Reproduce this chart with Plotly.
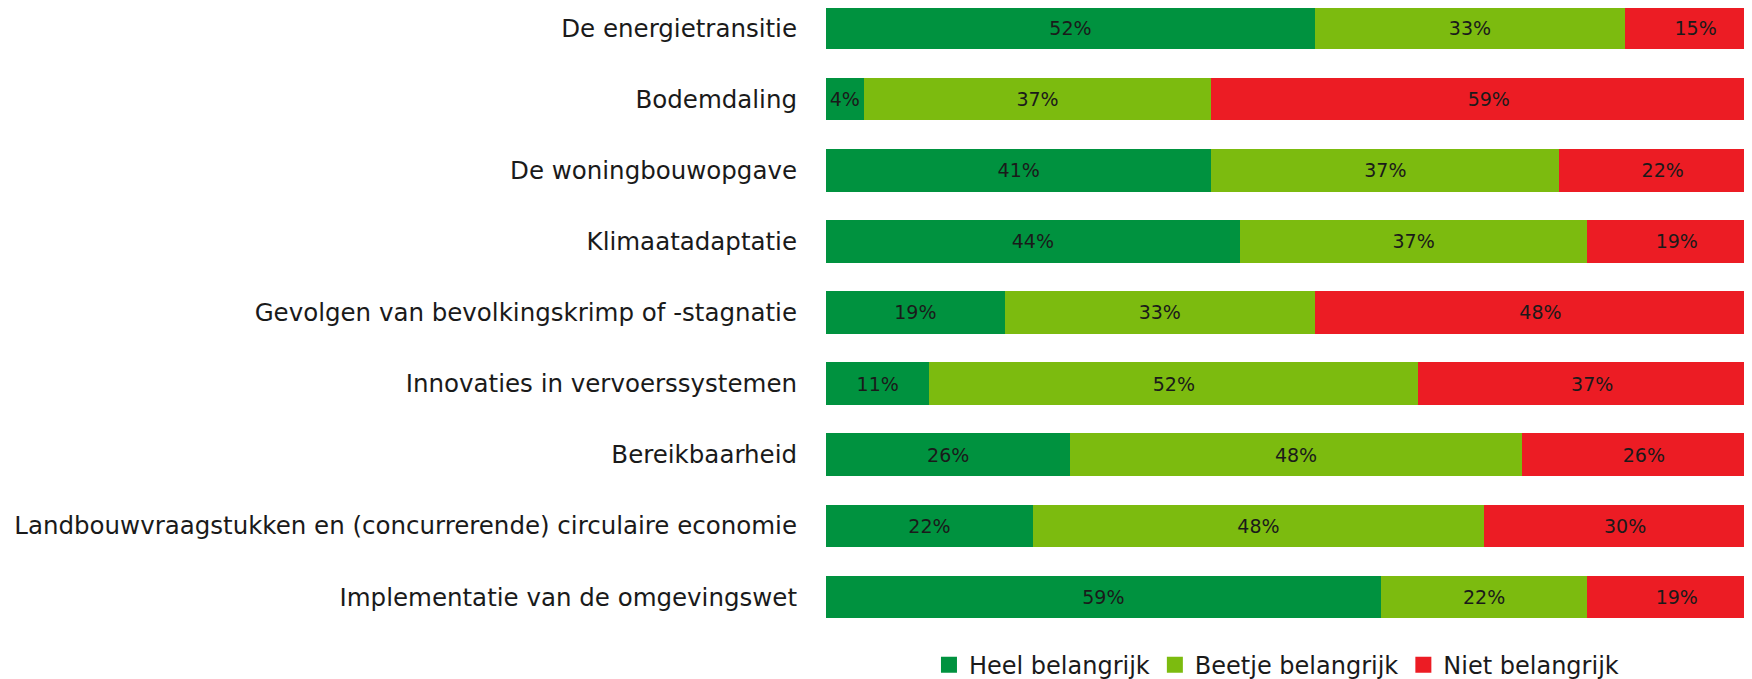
import plotly.graph_objects as go

categories = [
    "De energietransitie",
    "Bodemdaling",
    "De woningbouwopgave",
    "Klimaatadaptatie",
    "Gevolgen van bevolkingskrimp of -stagnatie",
    "Innovaties in vervoerssystemen",
    "Bereikbaarheid",
    "Landbouwvraagstukken en (concurrerende) circulaire economie",
    "Implementatie van de omgevingswet",
]
heel = [52, 4, 41, 44, 19, 11, 26, 22, 59]
beetje = [33, 37, 37, 37, 33, 52, 48, 48, 22]
niet = [15, 59, 22, 19, 48, 37, 26, 30, 19]

series = [
    ("Heel belangrijk", heel, "#00923F"),
    ("Beetje belangrijk", beetje, "#7CBB0F"),
    ("Niet belangrijk", niet, "#EC1C24"),
]

LABEL_FONT = "DejaVu Sans"
fig = go.Figure()
for name, vals, col in series:
    fig.add_trace(go.Bar(
        y=categories, x=vals, name=name, orientation="h",
        marker=dict(color=col, line=dict(width=0)),
        text=[f"{v}%" for v in vals], textposition="inside",
        insidetextanchor="middle", textangle=0,
        textfont=dict(family=LABEL_FONT, size=19, color="#1a1a1a"),
        width=0.6, showlegend=False, legendgroup=name,
    ))
# legend entries (square swatches)
for name, vals, col in series:
    fig.add_trace(go.Scatter(
        x=[None], y=[None], mode="markers", name=name, legendgroup=name,
        marker=dict(symbol="square", size=16, color=col),
        hoverinfo="skip",
    ))

fig.update_layout(
    barmode="stack",
    width=1744, height=671,
    margin=dict(l=818, r=0, t=0, b=47, autoexpand=False),
    paper_bgcolor="white", plot_bgcolor="white",
    uniformtext=dict(mode="show", minsize=19),
    showlegend=True,
    legend=dict(orientation="h", x=0.1112, xref="paper", xanchor="left",
                y=-0.053, yanchor="middle",
                font=dict(family=LABEL_FONT, size=24, color="#1a1a1a"),
                traceorder="normal", itemsizing="trace"),
    xaxis=dict(range=[0, 98.5], showgrid=False, showticklabels=False,
               zeroline=False, showline=False),
    yaxis=dict(categoryorder="array", categoryarray=categories,
               range=[8.492, -0.281], showgrid=False, showline=False,
               ticks="", ticklabelstandoff=28,
               tickfont=dict(family=LABEL_FONT, size=24.5, color="#1a1a1a")),
)
fig.write_html("out.html")
